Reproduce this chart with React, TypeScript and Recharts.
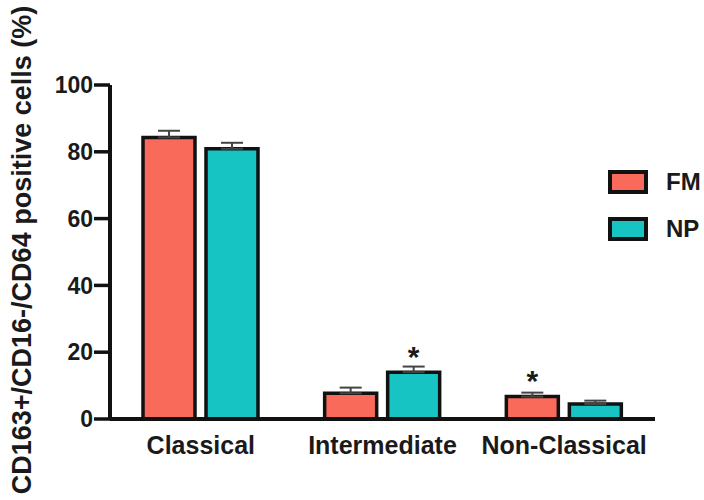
import React from "react";
import {
  BarChart,
  Bar,
  XAxis,
  YAxis,
  ErrorBar,
  LabelList,
  Label,
} from "recharts";

const categories = ["Classical", "Intermediate", "Non-Classical"];
const seriesNames = ["FM", "NP"];
const fmValues = [84.3, 7.7, 6.7];
const npValues = [80.9, 14.0, 4.5];
const fmErrors = [2.0, 1.7, 1.2];
const npErrors = [1.8, 1.7, 1.0];
const fmSig = ["", "", "*"];
const npSig = ["", "*", ""];
const yTicks = [0, 20, 40, 60, 80, 100];

const FM_COLOR = "#f96a5a";
const NP_COLOR = "#17c4c4";
const INK = "#1a1a1a";
const FONT = "'Liberation Sans', Arial, sans-serif";

// only the upper half of each error bar is shown, prism style
const data = categories.map((name, i) => ({
  name,
  fm: fmValues[i],
  np: npValues[i],
  fmErr: [0, fmErrors[i]],
  npErr: [0, npErrors[i]],
  fmSig: fmSig[i],
  npSig: npSig[i],
}));

const Star = (props: any) => {
  const { x, y, width, value } = props;
  if (!value) return null;
  return (
    <text
      x={x + width / 2}
      y={y - 22}
      textAnchor="middle"
      dominantBaseline="central"
      fontSize={30}
      fontWeight={700}
      fontFamily={FONT}
      fill={INK}
      dy={6}
    >
      {value}
    </text>
  );
};

// legend drawn beside the chart so it doesn't eat into the plot area
const LegendBox = () => {
  const colors = [FM_COLOR, NP_COLOR];
  return (
    <div
      style={{
        position: "absolute",
        left: 608,
        top: 158,
        fontFamily: FONT,
      }}
    >
      {seriesNames.map((label, i) => (
        <div
          key={label}
          style={{ display: "flex", alignItems: "center", height: 47 }}
        >
          <svg width={40} height={24}>
            <rect
              x={2}
              y={2}
              width={36}
              height={20}
              fill={colors[i]}
              stroke="#111"
              strokeWidth={4}
            />
          </svg>
          <span
            style={{
              marginLeft: 18,
              fontSize: 24,
              fontWeight: 700,
              color: INK,
            }}
          >
            {label}
          </span>
        </div>
      ))}
    </div>
  );
};

const YTitle = (props: any) => {
  const { viewBox } = props;
  const cx = viewBox.x + 22;
  const cy = viewBox.y + viewBox.height / 2 - 2;
  return (
    <text
      x={cx}
      y={cy}
      transform={`rotate(-90, ${cx}, ${cy})`}
      textAnchor="middle"
      dominantBaseline="central"
      fontSize={27}
      fontWeight={700}
      fontFamily={FONT}
      fill={INK}
    >
      CD163+/CD16-/CD64 positive cells (%)
    </text>
  );
};

export default function App() {
  return (
    <div
      style={{
        position: "absolute",
        left: 0,
        top: 0,
        width: 704,
        height: 500,
        overflow: "hidden",
        background: "#fff",
      }}
    >
      <BarChart
        width={704}
        height={500}
        data={data}
        margin={{ top: 85, right: 49, left: 0, bottom: 41 }}
        barSize={52}
        barGap={11}
      >
        <XAxis
          dataKey="name"
          height={40}
          axisLine={{ stroke: "#111", strokeWidth: 4 }}
          tickLine={false}
          tickSize={0}
          tickMargin={17}
          tick={{ fontSize: 25, fontWeight: 700, fill: INK, fontFamily: FONT }}
          interval={0}
        />
        <YAxis
          width={110}
          domain={[0, 100]}
          ticks={yTicks}
          axisLine={{ stroke: "#111", strokeWidth: 4 }}
          tickLine={{ stroke: "#111", strokeWidth: 3.5 }}
          tickSize={16}
          tickMargin={1}
          tick={{ fontSize: 23, fontWeight: 700, fill: INK, fontFamily: FONT }}
        >
          <Label content={<YTitle />} />
        </YAxis>
        <Bar
          dataKey="fm"
          name={seriesNames[0]}
          fill={FM_COLOR}
          stroke="#111"
          strokeWidth={3.5}
          isAnimationActive={false}
        >
          <ErrorBar dataKey="fmErr" width={11} stroke="#444" strokeWidth={2} direction="y" />
          <LabelList dataKey="fmSig" content={<Star />} />
        </Bar>
        <Bar
          dataKey="np"
          name={seriesNames[1]}
          fill={NP_COLOR}
          stroke="#111"
          strokeWidth={3.5}
          isAnimationActive={false}
        >
          <ErrorBar dataKey="npErr" width={11} stroke="#444" strokeWidth={2} direction="y" />
          <LabelList dataKey="npSig" content={<Star />} />
        </Bar>
      </BarChart>
      <LegendBox />
    </div>
  );
}
